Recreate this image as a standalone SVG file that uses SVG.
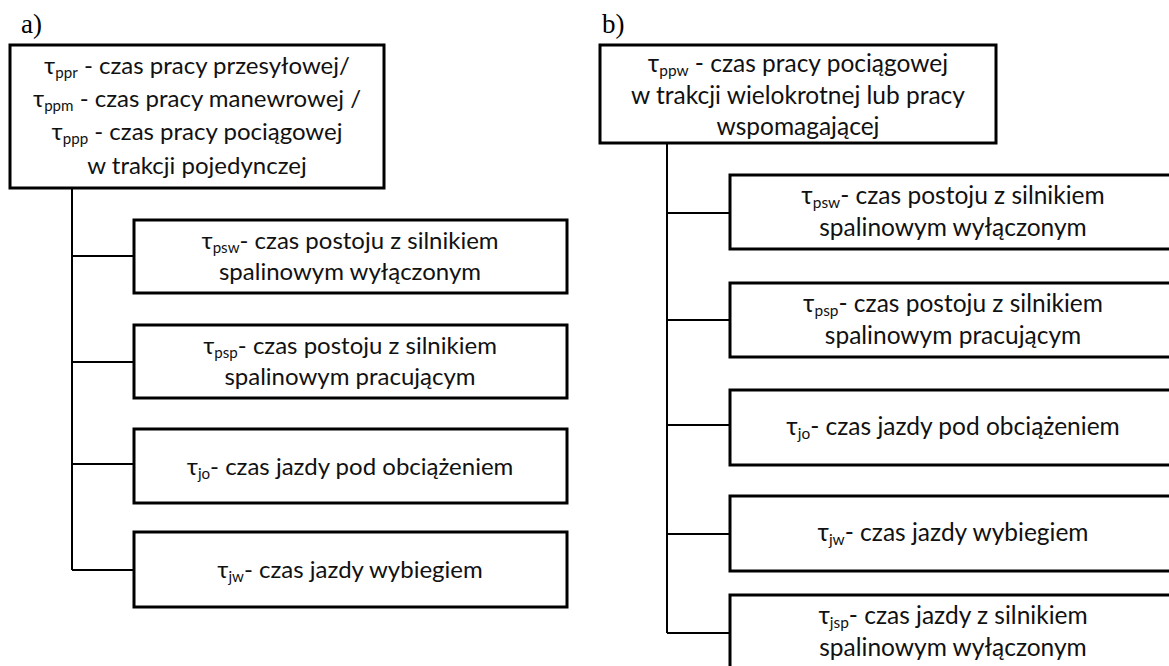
<svg xmlns="http://www.w3.org/2000/svg" width="1169" height="666" viewBox="0 0 1169 666">
<style>
.box{fill:#fff;stroke:#000;stroke-width:3}
.con{fill:none;stroke:#000;stroke-width:2}
.t{font-family:Lato,"Liberation Sans",sans-serif;fill:#111;text-anchor:middle}
.L{font-size:24px}
.R{font-size:24.5px}
.s{font-size:63%}
.lbl{font-family:"Liberation Serif",serif;font-size:27px;fill:#000}
</style>
<rect width="1169" height="666" fill="#fff"/>
<text class="lbl" x="21" y="33">a)</text>
<text class="lbl" x="602" y="33">b)</text>
<g id="connectors">
<path class="con" d="M72 188V570M72 256H134M72 362H134M72 464H134M72 570H134"/>
<path class="con" d="M667 143V633M667 213H730M667 320H730M667 425H730M667 534H730M667 633H730"/>
</g>
<g id="a-root">
<rect class="box" x="10" y="45" width="374" height="143"/>
<text class="t L"><tspan x="197" y="74">τ<tspan class="s" dy="4">ppr</tspan><tspan dy="-4"> - czas pracy przesyłowej/</tspan></tspan><tspan x="197" y="107">τ<tspan class="s" dy="4">ppm</tspan><tspan dy="-4"> - czas pracy manewrowej /</tspan></tspan><tspan x="197" y="140">τ<tspan class="s" dy="4">ppp</tspan><tspan dy="-4"> - czas pracy pociągowej</tspan></tspan><tspan x="197" y="174">w trakcji pojedynczej</tspan></text>
</g>
<g id="a-psw">
<rect class="box" x="134" y="220" width="433" height="73"/>
<text class="t L"><tspan x="350" y="249">τ<tspan class="s" dy="4">psw</tspan><tspan dy="-4">- czas postoju z silnikiem</tspan></tspan><tspan x="350" y="280">spalinowym wyłączonym</tspan></text>
</g>
<g id="a-psp">
<rect class="box" x="134" y="325" width="433" height="73"/>
<text class="t L"><tspan x="350" y="354">τ<tspan class="s" dy="4">psp</tspan><tspan dy="-4">- czas postoju z silnikiem</tspan></tspan><tspan x="350" y="385">spalinowym pracującym</tspan></text>
</g>
<g id="a-jo">
<rect class="box" x="134" y="429" width="433" height="74"/>
<text class="t L" x="350" y="475">τ<tspan class="s" dy="4">jo</tspan><tspan dy="-4">- czas jazdy pod obciążeniem</tspan></text>
</g>
<g id="a-jw">
<rect class="box" x="134" y="532" width="433" height="75"/>
<text class="t L" x="350" y="578">τ<tspan class="s" dy="4">jw</tspan><tspan dy="-4">- czas jazdy wybiegiem</tspan></text>
</g>
<g id="b-root">
<rect class="box" x="600" y="45" width="396" height="98"/>
<text class="t R"><tspan x="798" y="72">τ<tspan class="s" dy="4">ppw</tspan><tspan dy="-4"> - czas pracy pociągowej</tspan></tspan><tspan x="798" y="104">w trakcji wielokrotnej lub pracy</tspan><tspan x="798" y="135">wspomagającej</tspan></text>
</g>
<g id="b-psw">
<rect class="box" x="730" y="175" width="450" height="74"/>
<text class="t R"><tspan x="953" y="204">τ<tspan class="s" dy="4">psw</tspan><tspan dy="-4">- czas postoju z silnikiem</tspan></tspan><tspan x="953" y="236">spalinowym wyłączonym</tspan></text>
</g>
<g id="b-psp">
<rect class="box" x="730" y="283" width="450" height="74"/>
<text class="t R"><tspan x="953" y="312">τ<tspan class="s" dy="4">psp</tspan><tspan dy="-4">- czas postoju z silnikiem</tspan></tspan><tspan x="953" y="344">spalinowym pracującym</tspan></text>
</g>
<g id="b-jo">
<rect class="box" x="730" y="390" width="450" height="75"/>
<text class="t R" x="953" y="435">τ<tspan class="s" dy="4">jo</tspan><tspan dy="-4">- czas jazdy pod obciążeniem</tspan></text>
</g>
<g id="b-jw">
<rect class="box" x="730" y="496" width="450" height="75"/>
<text class="t R" x="953" y="541">τ<tspan class="s" dy="4">jw</tspan><tspan dy="-4">- czas jazdy wybiegiem</tspan></text>
</g>
<g id="b-jsp">
<rect class="box" x="730" y="595" width="450" height="90"/>
<text class="t R"><tspan x="953" y="624">τ<tspan class="s" dy="4">jsp</tspan><tspan dy="-4">- czas jazdy z silnikiem</tspan></tspan><tspan x="953" y="656">spalinowym wyłączonym</tspan></text>
</g>
</svg>
